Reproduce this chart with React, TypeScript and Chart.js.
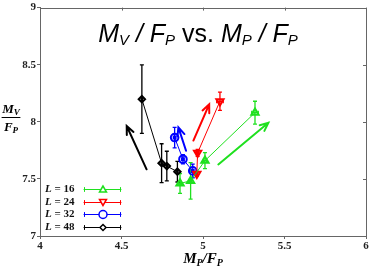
import React, { useEffect, useRef } from 'react';
import { Chart, registerables } from 'chart.js';

Chart.register(...registerables);

// ---- data ----
const seriesLabels = ['16', '24', '32', '48'];
const seriesColors = ['#1fe01f', '#ff0000', '#0000ff', '#000000'];
const seriesMarkers = ['triangle', 'triangleDown', 'circle', 'diamond'];

const l16X = [4.859, 4.924, 5.012, 5.319];
const l16Y = [7.46, 7.483, 7.66, 8.08];
const l16XErr = [0.008, 0.008, 0.01, 0.02];
const l16YErr = [0.086, 0.16, 0.07, 0.1];

const l24X = [4.962, 4.967, 5.104];
const l24Y = [7.545, 7.728, 8.18];
const l24XErr = [0.006, 0.006, 0.02];
const l24YErr = [0.02, 0.03, 0.08];

const l32X = [4.826, 4.877, 4.937];
const l32Y = [7.862, 7.672, 7.57];
const l32XErr = [0.008, 0.008, 0.008];
const l32YErr = [0.09, 0.04, 0.06];

const l48X = [4.625, 4.746, 4.778, 4.843];
const l48Y = [8.198, 7.638, 7.612, 7.563];
const l48XErr = [0.004, 0.004, 0.004, 0.004];
const l48YErr = [0.3, 0.17, 0.13, 0.09];

const allX = [l16X, l24X, l32X, l48X];
const allY = [l16Y, l24Y, l32Y, l48Y];
const allXErr = [l16XErr, l24XErr, l32XErr, l48XErr];
const allYErr = [l16YErr, l24YErr, l32YErr, l48YErr];

// arrows (one per series: L=16, 24, 32, 48)
const arrowX0 = [5.094, 4.941, 4.896, 4.654];
const arrowY0 = [7.627, 7.836, 7.747, 7.584];
const arrowX1 = [5.401, 5.038, 4.849, 4.532];
const arrowY1 = [7.991, 8.153, 7.951, 7.963];

const xTicks = [4, 4.5, 5, 5.5, 6];
const yTicks = [7, 7.5, 8, 8.5, 9];

const SERIF = '"Liberation Serif", "DejaVu Serif", serif';
const SANS = '"Liberation Sans", Arial, sans-serif';
const FRAME = '#666666';

function drawMarker(ctx: CanvasRenderingContext2D, type: string, x: number, y: number, r: number, color: string, lw: number) {
  ctx.save();
  ctx.strokeStyle = color;
  ctx.lineWidth = lw;
  ctx.fillStyle = 'white';
  ctx.beginPath();
  if (type === 'triangle') {
    ctx.moveTo(x, y - r);
    ctx.lineTo(x - r * 0.87, y + r * 0.5);
    ctx.lineTo(x + r * 0.87, y + r * 0.5);
    ctx.closePath();
  } else if (type === 'triangleDown') {
    ctx.moveTo(x, y + r);
    ctx.lineTo(x - r * 0.87, y - r * 0.5);
    ctx.lineTo(x + r * 0.87, y - r * 0.5);
    ctx.closePath();
  } else if (type === 'circle') {
    ctx.arc(x, y, r, 0, Math.PI * 2);
  } else {
    ctx.moveTo(x, y - r);
    ctx.lineTo(x + r, y);
    ctx.lineTo(x, y + r);
    ctx.lineTo(x - r, y);
    ctx.closePath();
  }
  ctx.fill();
  ctx.stroke();
  ctx.restore();
}

type Seg = { t: string; font: string; dy: number };

function drawSegs(ctx: CanvasRenderingContext2D, segs: Seg[], cx: number, baseline: number) {
  let total = 0;
  for (const s of segs) {
    ctx.font = s.font;
    total += ctx.measureText(s.t).width;
  }
  let x = cx - total / 2;
  ctx.textAlign = 'left';
  ctx.textBaseline = 'alphabetic';
  for (const s of segs) {
    ctx.font = s.font;
    ctx.fillText(s.t, x, baseline + s.dy);
    x += ctx.measureText(s.t).width;
  }
}

const decorPlugin = {
  id: 'decor',
  beforeDatasetsDraw(chart: any) {
    const ctx: CanvasRenderingContext2D = chart.ctx;
    const xs = chart.scales.x;
    const ys = chart.scales.y;
    ctx.save();
    ctx.lineWidth = 1.3;
    for (let s = 0; s < allX.length; s++) {
      ctx.strokeStyle = seriesColors[s];
      for (let i = 0; i < allX[s].length; i++) {
        const px = xs.getPixelForValue(allX[s][i]);
        const py = ys.getPixelForValue(allY[s][i]);
        const y0 = ys.getPixelForValue(allY[s][i] - allYErr[s][i]);
        const y1 = ys.getPixelForValue(allY[s][i] + allYErr[s][i]);
        const x0 = xs.getPixelForValue(allX[s][i] - allXErr[s][i]);
        const x1 = xs.getPixelForValue(allX[s][i] + allXErr[s][i]);
        ctx.beginPath();
        ctx.moveTo(px, y0); ctx.lineTo(px, y1);
        ctx.moveTo(px - 2, y0); ctx.lineTo(px + 2, y0);
        ctx.moveTo(px - 2, y1); ctx.lineTo(px + 2, y1);
        ctx.moveTo(x0, py); ctx.lineTo(x1, py);
        ctx.moveTo(x0, py - 2); ctx.lineTo(x0, py + 2);
        ctx.moveTo(x1, py - 2); ctx.lineTo(x1, py + 2);
        ctx.stroke();
      }
    }
    ctx.restore();
  },
  afterDraw(chart: any) {
    const ctx: CanvasRenderingContext2D = chart.ctx;
    const xs = chart.scales.x;
    const ys = chart.scales.y;
    const a = chart.chartArea;
    ctx.save();

    // frame
    ctx.strokeStyle = FRAME;
    ctx.lineWidth = 1;
    ctx.strokeRect(Math.round(a.left) + 0.5, Math.round(a.top) + 0.5, Math.round(a.right - a.left), Math.round(a.bottom - a.top));
    // inner ticks on top and right edges
    ctx.beginPath();
    for (const v of xTicks) {
      const px = Math.round(xs.getPixelForValue(v)) + 0.5;
      ctx.moveTo(px, a.top); ctx.lineTo(px, a.top + 3);
    }
    for (const v of yTicks) {
      const py = Math.round(ys.getPixelForValue(v)) + 0.5;
      ctx.moveTo(a.right, py); ctx.lineTo(a.right - 3, py);
    }
    ctx.stroke();

    // arrows
    for (let s = 0; s < arrowX0.length; s++) {
      const x0 = xs.getPixelForValue(arrowX0[s]);
      const y0 = ys.getPixelForValue(arrowY0[s]);
      const x1 = xs.getPixelForValue(arrowX1[s]);
      const y1 = ys.getPixelForValue(arrowY1[s]);
      const ang = Math.atan2(y1 - y0, x1 - x0);
      const hl = 9;
      const ha = 0.42;
      ctx.strokeStyle = seriesColors[s];
      ctx.lineWidth = 2;
      ctx.lineCap = 'round';
      ctx.beginPath();
      ctx.moveTo(x0, y0);
      ctx.lineTo(x1, y1);
      ctx.moveTo(x1 - hl * Math.cos(ang - ha), y1 - hl * Math.sin(ang - ha));
      ctx.lineTo(x1, y1);
      ctx.lineTo(x1 - hl * Math.cos(ang + ha), y1 - hl * Math.sin(ang + ha));
      ctx.stroke();
    }

    // title
    ctx.fillStyle = '#000';
    const big = 'italic 25px ' + SANS;
    const reg = '25px ' + SANS;
    const sub = 'italic 15px ' + SANS;
    drawSegs(ctx, [
      { t: 'M', font: big, dy: 0 },
      { t: 'V', font: sub, dy: 3 },
      { t: ' / ', font: big, dy: 0 },
      { t: 'F', font: big, dy: 0 },
      { t: 'P', font: sub, dy: 3 },
      { t: ' vs. ', font: reg, dy: 0 },
      { t: 'M', font: big, dy: 0 },
      { t: 'P', font: sub, dy: 3 },
      { t: ' / ', font: big, dy: 0 },
      { t: 'F', font: big, dy: 0 },
      { t: 'P', font: sub, dy: 3 },
    ], 198, 42);

    // x axis label
    const lab = 'italic bold 15px ' + SERIF;
    const labSub = 'italic bold 10px ' + SERIF;
    drawSegs(ctx, [
      { t: 'M', font: lab, dy: 0 },
      { t: 'P', font: labSub, dy: 3 },
      { t: '/', font: lab, dy: 0 },
      { t: 'F', font: lab, dy: 0 },
      { t: 'P', font: labSub, dy: 3 },
    ], (a.left + a.right) / 2, 263);

    // y axis label (fraction)
    const ylab = 'italic bold 13px ' + SERIF;
    const ylabSub = 'italic bold 9px ' + SERIF;
    drawSegs(ctx, [
      { t: 'M', font: ylab, dy: 0 },
      { t: 'V', font: ylabSub, dy: 2 },
    ], 11, 113);
    ctx.strokeStyle = '#000';
    ctx.lineWidth = 1;
    ctx.beginPath();
    ctx.moveTo(2, 117.5);
    ctx.lineTo(20, 117.5);
    ctx.stroke();
    drawSegs(ctx, [
      { t: 'F', font: ylab, dy: 0 },
      { t: 'P', font: ylabSub, dy: 2 },
    ], 11, 131);

    // legend
    const rows = [189, 202, 214, 227];
    for (let s = 0; s < seriesLabels.length; s++) {
      const y = rows[s];
      ctx.fillStyle = '#111';
      ctx.textBaseline = 'middle';
      ctx.textAlign = 'left';
      ctx.font = 'italic bold 11px ' + SERIF;
      ctx.fillText('L', 45, y + 0.5);
      const lw = ctx.measureText('L').width;
      ctx.font = 'bold 11px ' + SERIF;
      ctx.fillText(' = ' + seriesLabels[s], 45 + lw, y + 0.5);
      ctx.strokeStyle = seriesColors[s];
      ctx.lineWidth = 1;
      ctx.beginPath();
      ctx.moveTo(84, y + 0.5); ctx.lineTo(121, y + 0.5);
      ctx.moveTo(84.5, y - 1.5); ctx.lineTo(84.5, y + 2.5);
      ctx.moveTo(120.5, y - 1.5); ctx.lineTo(120.5, y + 2.5);
      ctx.stroke();
      const r = seriesMarkers[s] === 'diamond' ? 3 : 4;
      drawMarker(ctx, seriesMarkers[s], 103, y + (seriesMarkers[s] === 'triangle' ? 1 : seriesMarkers[s] === 'triangleDown' ? -0.5 : 0.5), r, seriesColors[s], 1.5);
    }
    ctx.restore();
  },
};

export default function App() {
  const ref = useRef<HTMLCanvasElement | null>(null);
  useEffect(() => {
    if (!ref.current) return;
    const styleFor = (m: string) => (m === 'triangleDown' ? 'triangle' : m === 'diamond' ? 'rectRot' : m);
    const datasets = seriesLabels.map((lab, s) => ({
      label: 'L = ' + lab,
      data: allX[s].map((x, i) => ({ x, y: allY[s][i] })),
      showLine: true,
      borderColor: seriesColors[s],
      borderWidth: 1,
      backgroundColor: seriesColors[s],
      pointStyle: styleFor(seriesMarkers[s]),
      pointRotation: seriesMarkers[s] === 'triangleDown' ? 180 : 0,
      pointRadius: seriesMarkers[s] === 'diamond' ? 3.2 : seriesMarkers[s] === 'circle' ? 3.8 : 4.2,
      pointBorderWidth: 2,
      pointBackgroundColor: 'rgba(0,0,0,0)',
      pointBorderColor: seriesColors[s],
      tension: 0,
    }));
    const chart = new Chart(ref.current, {
      type: 'scatter',
      data: { datasets },
      options: {
        animation: false,
        responsive: false,
        devicePixelRatio: 1,
        layout: { padding: { top: 4, right: 8, left: 0, bottom: 0 } },
        plugins: { legend: { display: false }, tooltip: { enabled: false }, title: { display: false } },
        scales: {
          x: {
            type: 'linear',
            min: 4,
            max: 6,
            afterBuildTicks: (sc: any) => { sc.ticks = xTicks.map((v) => ({ value: v })); },
            afterFit: (sc: any) => { sc.height = 35; },
            ticks: {
              padding: 1,
              color: '#222',
              font: { family: SERIF, size: 11, weight: 'bold' },
              callback: (v: any) => String(v),
              maxRotation: 0,
            },
            grid: { drawOnChartArea: false, drawTicks: true, tickLength: 3, color: FRAME },
            border: { display: true, color: FRAME },
          },
          y: {
            type: 'linear',
            min: 7,
            max: 9,
            afterBuildTicks: (sc: any) => { sc.ticks = yTicks.map((v) => ({ value: v })); },
            afterFit: (sc: any) => { sc.width = 40; },
            ticks: {
              padding: 1,
              color: '#222',
              font: { family: SERIF, size: 11, weight: 'bold' },
              callback: (v: any) => String(v),
            },
            grid: { drawOnChartArea: false, drawTicks: true, tickLength: 3, color: FRAME },
            border: { display: true, color: FRAME },
          },
        },
      },
      plugins: [decorPlugin],
    } as any);
    return () => chart.destroy();
  }, []);
  return (
    <div style={{ position: 'fixed', left: 0, top: 0, width: 374, height: 271, background: 'white' }}>
      <canvas ref={ref} width={374} height={271} style={{ display: 'block', width: 374, height: 271 }} />
    </div>
  );
}
